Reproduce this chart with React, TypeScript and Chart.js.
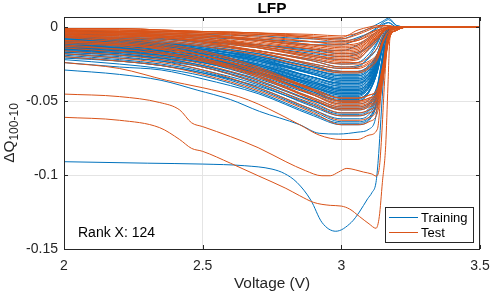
import React, { useEffect, useRef } from 'react';
import { Chart, registerables } from 'chart.js';

Chart.register(...registerables);

// ---------- data (ΔQ values stored in thousandths, i.e. ×1e-3) ----------
const bundleVoltage = [2.0, 2.2, 2.35, 2.5, 2.7, 2.9, 3.0, 3.06, 3.1, 3.13, 3.15, 3.17, 3.2];
const tailVoltage = [3.25, 3.5];
const tailDqMilli = [0, 0];

const trainingBundleMilli: number[][] = [
  [-3, -3, -4, -5, -6, -8, -8, -4, -1, 2, 4, 6, 1],
  [-5, -5, -6, -7, -9, -12, -12, -8, -4, 0, 3, 5, 1],
  [-4, -4, -5, -6, -8, -10, -10, -7, -4, -1, 2, 3, 0],
  [-7, -8, -8, -10, -12, -15, -16, -12, -7, -3, 1, 3, 0],
  [-6, -7, -8, -10, -14, -20, -22, -21, -15, -9, -3, 0, 0],
  [-7, -8, -9, -12, -16, -22, -25, -24, -18, -10, -3, 0, 0],
  [-8, -9, -11, -13, -18, -25, -28, -27, -20, -11, -3, 0, 0],
  [-8, -9, -11, -14, -19, -27, -30, -30, -26, -18, -7, -1, 0],
  [-9, -10, -12, -15, -20, -29, -32, -32, -28, -19, -8, -2, 0],
  [-10, -11, -13, -16, -22, -30, -34, -34, -30, -20, -8, -2, 0],
  [-10, -12, -13, -16, -23, -32, -36, -36, -32, -22, -9, -2, 0],
  [-11, -13, -15, -18, -25, -34, -38, -38, -33, -23, -10, -2, 0],
  [-11, -13, -15, -18, -26, -36, -40, -40, -35, -24, -10, -2, 0],
  [-12, -14, -16, -19, -27, -37, -41, -41, -36, -25, -10, -2, 0],
  [-12, -14, -16, -20, -28, -38, -43, -43, -38, -26, -11, -2, 0],
  [-13, -15, -17, -21, -29, -39, -44, -44, -39, -26, -11, -2, 0],
  [-13, -15, -17, -21, -30, -41, -46, -46, -40, -28, -12, -2, 0],
  [-14, -16, -18, -22, -31, -42, -47, -47, -41, -28, -12, -2, 0],
  [-14, -16, -19, -23, -32, -44, -49, -49, -43, -29, -12, -2, 0],
  [-15, -17, -20, -24, -33, -45, -50, -50, -44, -30, -13, -3, 0],
  [-15, -17, -20, -24, -34, -46, -52, -52, -49, -39, -18, -4, 0],
  [-16, -18, -21, -26, -35, -48, -54, -54, -51, -40, -19, -4, 0],
  [-16, -18, -21, -26, -36, -50, -56, -56, -53, -42, -20, -4, 0],
  [-17, -19, -22, -27, -38, -52, -58, -58, -55, -43, -20, -5, 0],
  [-18, -21, -23, -29, -39, -54, -60, -60, -57, -45, -21, -5, 0],
  [-19, -22, -25, -30, -41, -56, -62, -62, -59, -46, -22, -5, 0],
  [-20, -23, -26, -31, -42, -57, -64, -64, -61, -48, -22, -5, 0],
  [-22, -25, -28, -33, -44, -59, -65, -65, -62, -49, -23, -5, 0],
  [-24, -27, -29, -35, -45, -60, -66, -66, -63, -50, -23, -5, 0],
  [-21, -23, -26, -31, -40, -53, -59, -59, -56, -44, -21, -5, 0],
  [-9, -11, -13, -17, -26, -37, -42, -42, -37, -25, -10, -2, 0],
  [-12, -14, -17, -22, -31, -44, -50, -50, -44, -30, -13, -3, 0],
  [-6, -8, -10, -13, -20, -29, -33, -33, -29, -20, -8, -2, 0],
  [-8, -10, -12, -16, -23, -34, -38, -38, -33, -23, -10, -2, 0],
  [-10, -12, -14, -19, -27, -39, -44, -44, -39, -26, -11, -2, 0],
  [-7, -9, -11, -14, -22, -32, -36, -36, -32, -22, -9, -2, 0],
  [-17, -19, -21, -24, -31, -41, -45, -45, -40, -27, -11, -2, 0],
  [-5, -6, -7, -9, -13, -18, -20, -18, -13, -8, -3, 0, 0],
  [-11, -12, -14, -17, -23, -31, -35, -35, -31, -21, -9, -2, 0],
  [-4, -5, -6, -8, -12, -16, -18, -17, -13, -8, -3, 0, 0],
  [-6, -7, -8, -11, -16, -23, -27, -26, -21, -14, -5, -1, 0],
  [-7, -8, -10, -13, -18, -26, -30, -30, -26, -18, -7, -1, 0],
  [-9, -10, -12, -16, -22, -31, -35, -35, -31, -21, -9, -2, 0],
  [-10, -11, -14, -17, -24, -34, -39, -39, -34, -24, -10, -2, 0],
  [-12, -14, -16, -20, -28, -40, -45, -45, -40, -27, -11, -2, 0],
  [-13, -15, -18, -22, -30, -42, -48, -48, -43, -30, -13, -3, 0],
  [-8, -9, -11, -15, -21, -29, -33, -33, -29, -20, -8, -2, 0],
  [-14, -15, -17, -21, -28, -38, -42, -42, -37, -25, -10, -2, 0],
  [-18, -20, -23, -27, -37, -50, -55, -55, -52, -41, -19, -4, 0],
  [-15, -17, -19, -23, -31, -41, -46, -46, -41, -28, -12, -2, 0],
  [-9, -10, -12, -15, -21, -32, -37, -37, -33, -23, -9, -2, 0],
  [-11, -12, -14, -18, -25, -37, -42, -42, -37, -25, -10, -2, 0],
  [-13, -14, -16, -19, -26, -35, -40, -40, -35, -24, -10, -2, 0],
  [-10, -11, -12, -15, -20, -27, -31, -31, -27, -19, -8, -1, 0],
  [-14, -15, -17, -21, -29, -40, -45, -45, -40, -27, -11, -2, 0],
  [-16, -17, -19, -23, -32, -43, -48, -48, -43, -29, -12, -2, 0],
  [-12, -13, -15, -18, -25, -34, -38, -38, -34, -23, -9, -2, 0],
  [-15, -16, -18, -22, -29, -38, -43, -43, -38, -26, -11, -2, 0],
];

const testBundleMilli: number[][] = [
  [-1, -1, -2, -3, -4, -6, -7, -2, 0, 1, 1, 1, 0],
  [-2, -2, -3, -4, -5, -7, -9, -8, -4, -2, -1, 0, 0],
  [-2, -3, -3, -4, -7, -10, -11, -9, -6, -3, -1, 0, 0],
  [-3, -4, -4, -6, -8, -12, -13, -12, -8, -4, -2, -1, 0],
  [-3, -4, -5, -6, -9, -13, -15, -14, -9, -5, -2, -1, 0],
  [-4, -5, -6, -7, -11, -15, -17, -16, -10, -6, -3, -1, 0],
  [-4, -5, -6, -8, -12, -17, -19, -18, -11, -7, -3, -1, 0],
  [-5, -6, -7, -9, -13, -19, -21, -20, -13, -7, -3, -1, 0],
  [-5, -6, -7, -10, -14, -20, -23, -22, -14, -8, -3, -1, 0],
  [-6, -7, -8, -11, -16, -22, -25, -25, -23, -18, -9, -3, -1],
  [-6, -7, -9, -12, -17, -25, -28, -28, -25, -20, -10, -3, -1],
  [-7, -8, -10, -13, -19, -28, -31, -31, -28, -22, -11, -3, -1],
  [-9, -11, -14, -19, -29, -42, -48, -48, -46, -42, -26, -7, -1],
  [-9, -11, -14, -19, -30, -43, -50, -50, -48, -44, -28, -8, -2],
  [-10, -12, -15, -21, -31, -46, -52, -52, -50, -46, -29, -8, -2],
  [-11, -13, -17, -22, -33, -48, -54, -54, -52, -48, -30, -8, -2],
  [-12, -15, -18, -23, -34, -49, -55, -55, -53, -48, -30, -8, -2],
  [-13, -15, -18, -23, -32, -45, -51, -51, -49, -45, -28, -8, -2],
  [-14, -17, -20, -25, -36, -51, -58, -58, -56, -51, -32, -9, -2],
  [-16, -19, -22, -27, -38, -53, -60, -60, -58, -53, -33, -9, -2],
  [-18, -21, -24, -29, -41, -56, -63, -63, -61, -55, -35, -9, -2],
  [-20, -23, -26, -32, -43, -58, -66, -66, -64, -58, -36, -10, -2],
  [-3, -4, -6, -10, -17, -26, -30, -30, -27, -21, -11, -3, -1],
  [-5, -8, -11, -16, -27, -42, -48, -48, -46, -42, -26, -7, -1],
  [-1, -1, -2, -3, -5, -8, -10, -9, -5, -2, -1, 0, 0],
  [-2, -3, -4, -5, -8, -12, -14, -13, -8, -4, -2, -1, 0],
  [-3, -4, -5, -7, -12, -17, -20, -19, -12, -7, -3, -1, 0],
  [-4, -5, -7, -9, -14, -21, -24, -24, -20, -14, -6, -2, 0],
  [-6, -9, -12, -17, -28, -43, -50, -50, -48, -44, -28, -8, -2],
  [-7, -10, -13, -19, -30, -46, -53, -53, -51, -46, -29, -8, -2],
  [-2, -2, -3, -3, -4, -5, -6, -4, -1, 0, 1, 1, 0],
  [-1, -1, -2, -3, -4, -7, -8, -5, -2, 0, 0, 0, 0],
  [-2, -2, -3, -4, -6, -10, -12, -11, -7, -3, -1, 0, 0],
  [-3, -4, -5, -6, -10, -15, -18, -17, -11, -6, -3, -1, 0],
  [-4, -5, -6, -8, -13, -19, -22, -21, -15, -9, -4, -1, 0],
  [-5, -6, -7, -10, -16, -23, -27, -27, -24, -19, -9, -3, -1],
  [-10, -12, -15, -21, -33, -49, -56, -56, -54, -49, -31, -9, -2],
  [-2, -3, -4, -5, -9, -14, -16, -15, -9, -5, -2, -1, 0],
];

// individual curves that leave the bundle
const trainingDeepVoltage = [2.0, 2.3, 2.5, 2.65, 2.75, 2.795, 2.84, 2.89, 2.93, 2.98, 3.036, 3.065, 3.095, 3.11, 3.125, 3.133, 3.14, 3.15, 3.16, 3.175, 3.2];
const trainingDeepMilli = [-91, -92, -92.6, -93.7, -96, -99, -105, -117, -132, -138, -132, -125, -116, -112, -105, -90, -70, -40, -15, -3, 0];

const trainingLowVoltage = [2.0, 2.2, 2.35, 2.48, 2.6, 2.705, 2.85, 2.92, 2.99, 3.06, 3.1, 3.125, 3.14, 3.155, 3.17, 3.2];
const trainingLowMilli = [-29, -32, -36, -42.6, -49, -57, -66, -71.8, -72.3, -71, -69, -60, -35, -10, -2, 0];

const testUpperStepVoltage = [2.0, 2.2, 2.345, 2.417, 2.46, 2.5, 2.6, 2.7, 2.8, 2.87, 2.93, 2.96, 2.99, 3.02, 3.05, 3.08, 3.11, 3.125, 3.137, 3.145, 3.155, 3.165, 3.175, 3.2];
const testUpperStepMilli = [-45.3, -47, -51, -56, -64.7, -67.3, -74, -81.5, -91, -97, -100.5, -100.5, -98, -95.5, -96.5, -98, -99.3, -100.7, -95, -75, -40, -12, -3, 0];

const testLowerStepVoltage = [2.0, 2.2, 2.345, 2.417, 2.46, 2.5, 2.6, 2.7, 2.8, 2.85, 2.9, 2.96, 3.0, 3.03, 3.065, 3.1, 3.125, 3.137, 3.148, 3.16, 3.168, 3.175, 3.19];
const testLowerStepMilli = [-61, -63, -68, -76, -82, -84, -92, -100.5, -109, -114, -118.5, -120.5, -121, -123, -128, -133, -136, -128, -105, -80, -40, -8, 0];

const testFlatVoltage = [2.0, 2.2, 2.37, 2.5, 2.63, 2.7, 2.85, 2.92, 3.0, 3.06, 3.1, 3.13, 3.145, 3.16, 3.18, 3.2];
const testFlatMilli = [-24, -28, -36, -41, -47, -52, -66, -73, -76, -76, -73, -69, -40, -12, -2, 0];

const xTicks = [2, 2.5, 3, 3.5];
const xTickLabels = ['2', '2.5', '3', '3.5'];
const yTicks = [-0.15, -0.1, -0.05, 0];
const yTickLabels = ['-0.15', '-0.1', '-0.05', '0'];

const titleText = 'LFP';
const xLabelText = 'Voltage (V)';
const yLabelMain = 'ΔQ';
const yLabelSub = '100-10';
const annotationText = 'Rank X: 124';
const legendLabels = ['Training', 'Test'];

// ---------- styling ----------
const BLUE = '#0072BD';
const ORANGE = '#D95319';
const AXIS = '#262626';
const FONT = '"Liberation Sans", Arial, Helvetica, sans-serif';

function toPoints(volts: number[], milli: number[]) {
  const pts = volts.map((v, i) => ({ x: v, y: milli[i] / 1000 }));
  tailVoltage.forEach((v, i) => pts.push({ x: v, y: tailDqMilli[i] / 1000 }));
  return pts;
}

function lineDataset(points: { x: number; y: number }[], color: string) {
  return {
    data: points,
    borderColor: color,
    borderWidth: 1,
    pointRadius: 0,
    fill: false,
    cubicInterpolationMode: 'monotone' as const,
  };
}

const decorPlugin = {
  id: 'decor',
  afterDatasetsDraw(chart: any) {
    const { ctx, chartArea: a, scales } = chart;
    ctx.save();
    ctx.strokeStyle = AXIS;
    ctx.lineWidth = 1;
    ctx.strokeRect(a.left + 0.5, a.top + 0.5, a.right - a.left - 1, a.bottom - a.top);
    ctx.beginPath();
    xTicks.forEach((v) => {
      const px = Math.round(scales.x.getPixelForValue(v)) + 0.5;
      ctx.moveTo(px, a.bottom);
      ctx.lineTo(px, a.bottom - 4);
      ctx.moveTo(px, a.top);
      ctx.lineTo(px, a.top + 4);
    });
    yTicks.forEach((v) => {
      const py = Math.round(scales.y.getPixelForValue(v)) + 0.5;
      ctx.moveTo(a.left, py);
      ctx.lineTo(a.left + 4, py);
      ctx.moveTo(a.right, py);
      ctx.lineTo(a.right - 4, py);
    });
    ctx.stroke();

    const cx = (a.left + a.right) / 2;
    ctx.fillStyle = '#000';
    ctx.textAlign = 'center';
    ctx.textBaseline = 'alphabetic';
    ctx.font = `bold 15.4px ${FONT}`;
    ctx.fillText(titleText, cx, 12.5);

    ctx.fillStyle = AXIS;
    ctx.font = `15.4px ${FONT}`;
    ctx.fillText(xLabelText, cx, 288);

    const cy = (a.top + a.bottom) / 2;
    ctx.save();
    ctx.translate(14, cy);
    ctx.rotate(-Math.PI / 2);
    ctx.font = `15.4px ${FONT}`;
    const w1 = ctx.measureText(yLabelMain).width;
    ctx.font = `12px ${FONT}`;
    const w2 = ctx.measureText(yLabelSub).width;
    const start = -(w1 + w2) / 2;
    ctx.textAlign = 'left';
    ctx.font = `15.4px ${FONT}`;
    ctx.fillText(yLabelMain, start, 0);
    ctx.font = `12px ${FONT}`;
    ctx.fillText(yLabelSub, start + w1, 4);
    ctx.restore();

    ctx.textAlign = 'left';
    ctx.fillStyle = '#000';
    ctx.font = `14px ${FONT}`;
    ctx.fillText(annotationText, 78, 237);

    const lx = 385, ly = 207, lw = 88, lh = 35;
    ctx.fillStyle = '#fff';
    ctx.fillRect(lx, ly, lw, lh);
    ctx.strokeStyle = AXIS;
    ctx.strokeRect(lx + 0.5, ly + 0.5, lw, lh);
    const entries = [
      { label: legendLabels[0], color: BLUE, y: 217.5 },
      { label: legendLabels[1], color: ORANGE, y: 232.5 },
    ];
    ctx.font = `13px ${FONT}`;
    entries.forEach((e) => {
      ctx.strokeStyle = e.color;
      ctx.beginPath();
      ctx.moveTo(389, e.y);
      ctx.lineTo(418, e.y);
      ctx.stroke();
      ctx.fillStyle = '#000';
      ctx.fillText(e.label, 421, e.y + 4.5);
    });
    ctx.restore();
  },
};

export default function App() {
  const canvasRef = useRef<HTMLCanvasElement | null>(null);

  useEffect(() => {
    if (!canvasRef.current) return;
    const testSets = [
      ...testBundleMilli.map((c) => lineDataset(toPoints(bundleVoltage, c), ORANGE)),
      lineDataset(toPoints(testUpperStepVoltage, testUpperStepMilli), ORANGE),
      lineDataset(toPoints(testLowerStepVoltage, testLowerStepMilli), ORANGE),
      lineDataset(toPoints(testFlatVoltage, testFlatMilli), ORANGE),
    ];
    const trainSets = [
      ...trainingBundleMilli.map((c) => lineDataset(toPoints(bundleVoltage, c), BLUE)),
      lineDataset(toPoints(trainingDeepVoltage, trainingDeepMilli), BLUE),
      lineDataset(toPoints(trainingLowVoltage, trainingLowMilli), BLUE),
    ];

    const chart = new Chart(canvasRef.current, {
      type: 'line',
      data: { datasets: [...testSets, ...trainSets] as any },
      options: {
        responsive: false,
        animation: false,
        devicePixelRatio: 1,
        layout: { padding: { left: 0, right: 10, top: 17, bottom: 0 } },
        plugins: {
          legend: { display: false },
          tooltip: { enabled: false },
          title: { display: false },
        },
        scales: {
          x: {
            type: 'linear',
            min: 2,
            max: 3.5,
            afterFit: (s: any) => { s.height = 45; s.paddingLeft = 0; s.paddingRight = 0; },
            afterBuildTicks: (s: any) => { s.ticks = xTicks.map((value) => ({ value })); },
            ticks: {
              callback: (v: any) => xTickLabels[xTicks.indexOf(Number(v))] ?? '',
              font: { family: FONT, size: 14 },
              color: AXIS,
              padding: 9,
              maxRotation: 0,
            },
            grid: { color: '#e4e4e4', drawTicks: false },
            border: { display: false },
          },
          y: {
            type: 'linear',
            min: -0.15,
            max: 0.0068,
            afterFit: (s: any) => { s.width = 64; s.paddingTop = 0; s.paddingBottom = 0; },
            afterBuildTicks: (s: any) => { s.ticks = yTicks.map((value) => ({ value })); },
            ticks: {
              callback: (v: any) => yTickLabels[yTicks.indexOf(Number(v))] ?? '',
              font: { family: FONT, size: 14 },
              color: AXIS,
              padding: 6,
            },
            grid: { color: '#e4e4e4', drawTicks: false },
            border: { display: false },
          },
        },
      },
      plugins: [decorPlugin],
    });
    return () => chart.destroy();
  }, []);

  return (
    <div style={{ position: 'absolute', left: 0, top: 0, width: 490, height: 294, background: '#fff' }}>
      <canvas ref={canvasRef} width={490} height={294} style={{ width: 490, height: 294, display: 'block' }} />
    </div>
  );
}
